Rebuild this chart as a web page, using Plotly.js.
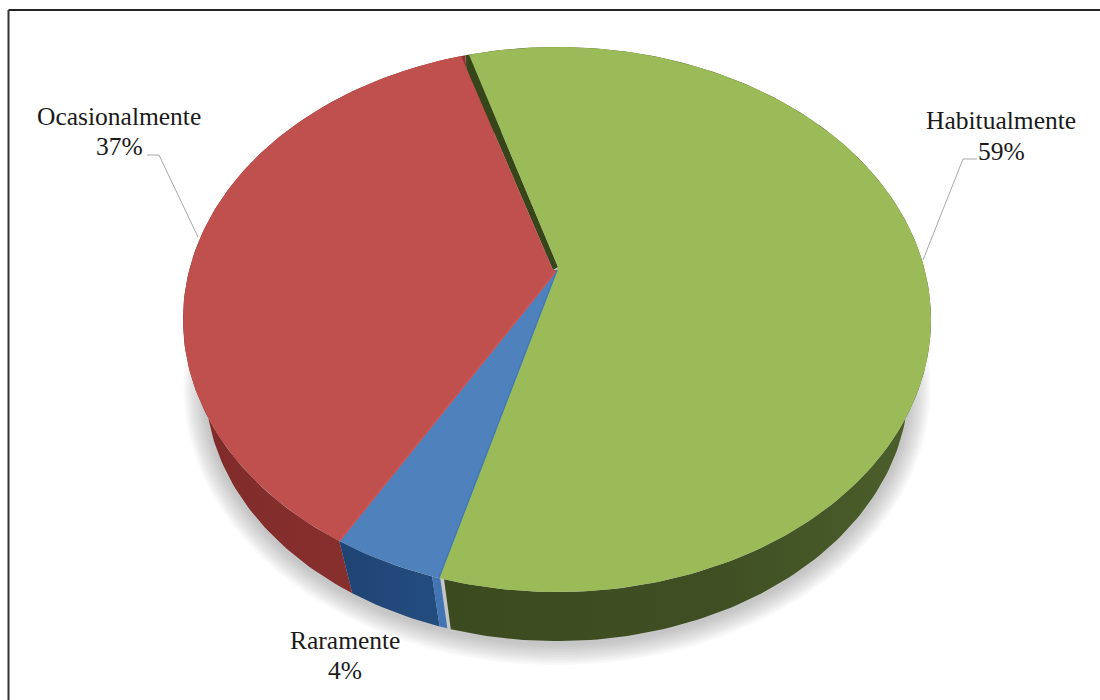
<!DOCTYPE html>
<html>
<head>
<meta charset="utf-8">
<script src="https://cdn.plot.ly/plotly-3.0.1.min.js"></script>
<style>html,body{margin:0;padding:0;background:#fff}#chart{width:1100px;height:700px}</style>
</head>
<body>
<div id="chart"></div>
<script>
// Usage frequency shares
const categories = ['Habitualmente', 'Raramente', 'Ocasionalmente'];
const shares = [59, 4, 37];

// Slice colours: top face, side wall
const topColors = ['#9BBB59', '#4F81BD', '#C0504D'];
const wallColors = [
  [[0, '#3c4a20'], [0.55, '#3f4f23'], [1, '#4c602b']],
  [[0, '#1f4474'], [1, '#234c7e']],
  [[0, '#7f2b2a'], [1, '#8c3230']]
];

// Perspective disc: the apex sits above the ellipse centre because the back is further away
const apex = {x: 558, y: 267};
const rimCentreX = 557;
const persp = 0.1927, scaleX = 367, scaleY = 262.4;
// The lower rim shrinks towards a vanishing point below the disc
const vanish = {x: 557, y: 1410}, depthScale = 0.94;
const startDeg = -17.2;

function rim(deg) {
  const t = deg * Math.PI / 180, X = Math.sin(t), Y = Math.cos(t), w = 1 + persp * Y;
  return [rimCentreX + scaleX * X / w, apex.y - scaleY * Y / w];
}
function lower(p) {
  return [vanish.x + (p[0] - vanish.x) * depthScale, vanish.y + (p[1] - vanish.y) * depthScale];
}
function arc(a, b) {
  const n = Math.max(2, Math.ceil(Math.abs(b - a))), out = [];
  for (let i = 0; i <= n; i++) out.push(rim(a + (b - a) * i / n));
  return out;
}
function poly(points, fill, extra) {
  return Object.assign({
    type: 'scatter', mode: 'lines', x: points.map(p => p[0]).concat(points[0][0]),
    y: points.map(p => p[1]).concat(points[0][1]), fill: 'toself', fillcolor: fill,
    line: {width: 0, color: fill}, hoverinfo: 'skip', showlegend: false
  }, extra || {});
}
function stroke(points, color, width) {
  return {type: 'scatter', mode: 'lines', x: points.map(p => p[0]), y: points.map(p => p[1]),
    line: {color: color, width: width}, hoverinfo: 'skip', showlegend: false};
}

// Slice angles derive from the shares
const total = shares.reduce((a, b) => a + b, 0);
let cursor = startDeg;
const slices = shares.map((v, i) => {
  const from = cursor; cursor += v / total * 360;
  return {from: from, to: cursor, i: i};
});
const green = slices[0], blue = slices[1], red = slices[2];

// Slices are pulled apart a little, so each has its own tip
const tipGreen = [apex.x, apex.y];
const tipBlue = [apex.x - 1, apex.y + 3];
const tipRed = [apex.x - 5, apex.y + 3];

const traces = [];

// Soft drop shadow under the lower rim
const rimFull = arc(0, 360).map(lower);
const shadowCy = vanish.y + (319 - vanish.y) * depthScale;
for (let d = 22; d >= 2; d -= 2) {
  const kx = 1 + d / 351, ky = 1 + d / 256;
  traces.push(poly(rimFull.map(p => [rimCentreX + (p[0] - rimCentreX) * kx, shadowCy + (p[1] - shadowCy) * ky + 2]),
    'rgba(105,115,125,0.045)'));
}

// Side walls
function wall(a, b, colors) {
  const top = arc(a, b), bottom = top.map(lower).reverse();
  const xs = top.map(p => p[0]);
  return poly(top.concat(bottom), colors[0][1], {
    fillgradient: {type: 'horizontal', colorscale: colors, start: Math.min(...xs), stop: Math.max(...xs)}
  });
}
traces.push(wall(green.from, green.to - 0.7, wallColors[0]));
traces.push(wall(red.from, red.to, wallColors[2]));
traces.push(wall(blue.from + 0.9, blue.to, wallColors[1]));
// Cut face of the blue slice showing at its right corner
traces.push(poly([rim(blue.from - 0.2), rim(blue.from + 0.9), lower(rim(blue.from + 0.9)), lower(rim(blue.from - 0.2))], '#4375b4'));

// Inner face of the green slice, seen in the slit beside the red one
const innerTop = rim(red.to - 0.8);
const greenTop = rim(green.from + 0.7);
traces.push(poly([tipGreen,
  [tipGreen[0] + (greenTop[0] - tipGreen[0]) * 0.99, tipGreen[1] + (greenTop[1] - tipGreen[1]) * 0.99],
  [tipRed[0] + (innerTop[0] - tipRed[0]) * 0.94, tipRed[1] + (innerTop[1] - tipRed[1]) * 0.94],
  tipRed], '#36461a'));

// Top faces
traces.push(poly([tipBlue].concat(arc(red.from, red.to - 0.8), [tipRed]), topColors[2]));
traces.push(poly([tipBlue].concat(arc(blue.from, blue.to)), topColors[1]));
traces.push(poly([tipGreen].concat(arc(green.from + 0.7, green.to)), topColors[0]));

// Lit bevels along the radial edges
traces.push(stroke([tipBlue, rim(red.from)], '#d3534f', 1.5));
traces.push(stroke([tipBlue, rim(blue.from)], '#3f79bd', 1.5));

// Leader lines
traces.push(stroke([[147, 155], [159, 155], [198, 237]], '#a8a8a8', 1));
traces.push(stroke([[977, 159], [963, 159], [923, 260]], '#a8a8a8', 1));

// Label anchors, in the same order as the categories
const labelX = [1001, 345, 119];
const nameY = [120, 640, 116];
const percentY = [151, 670, 146];

const labelFont = {family: '"Liberation Serif", serif', size: 25.5, color: '#1a1a1a'};
const nameNotes = categories.map((c, i) => ({
  x: labelX[i], y: nameY[i], xref: 'x', yref: 'y', showarrow: false, text: c, font: labelFont
}));
const percentNotes = shares.map((v, i) => ({
  x: labelX[i], y: percentY[i], xref: 'x', yref: 'y', showarrow: false, text: v + '%', font: labelFont
}));

const layout = {
  width: 1100, height: 700, margin: {l: 0, r: 0, t: 0, b: 0},
  paper_bgcolor: '#fff', plot_bgcolor: '#fff', showlegend: false,
  xaxis: {range: [0, 1100], visible: false, fixedrange: true},
  yaxis: {range: [700, 0], visible: false, fixedrange: true},
  shapes: [
    {type: 'line', xref: 'x', yref: 'y', x0: 8.5, y0: 10, x1: 1100, y1: 10, line: {color: '#222', width: 2}},
    {type: 'line', xref: 'x', yref: 'y', x0: 8.5, y0: 10, x1: 8.5, y1: 700, line: {color: '#333', width: 2}}
  ],
  annotations: nameNotes.concat(percentNotes)
};

Plotly.newPlot('chart', traces, layout, {displayModeBar: false, staticPlot: true});
</script>
</body>
</html>
